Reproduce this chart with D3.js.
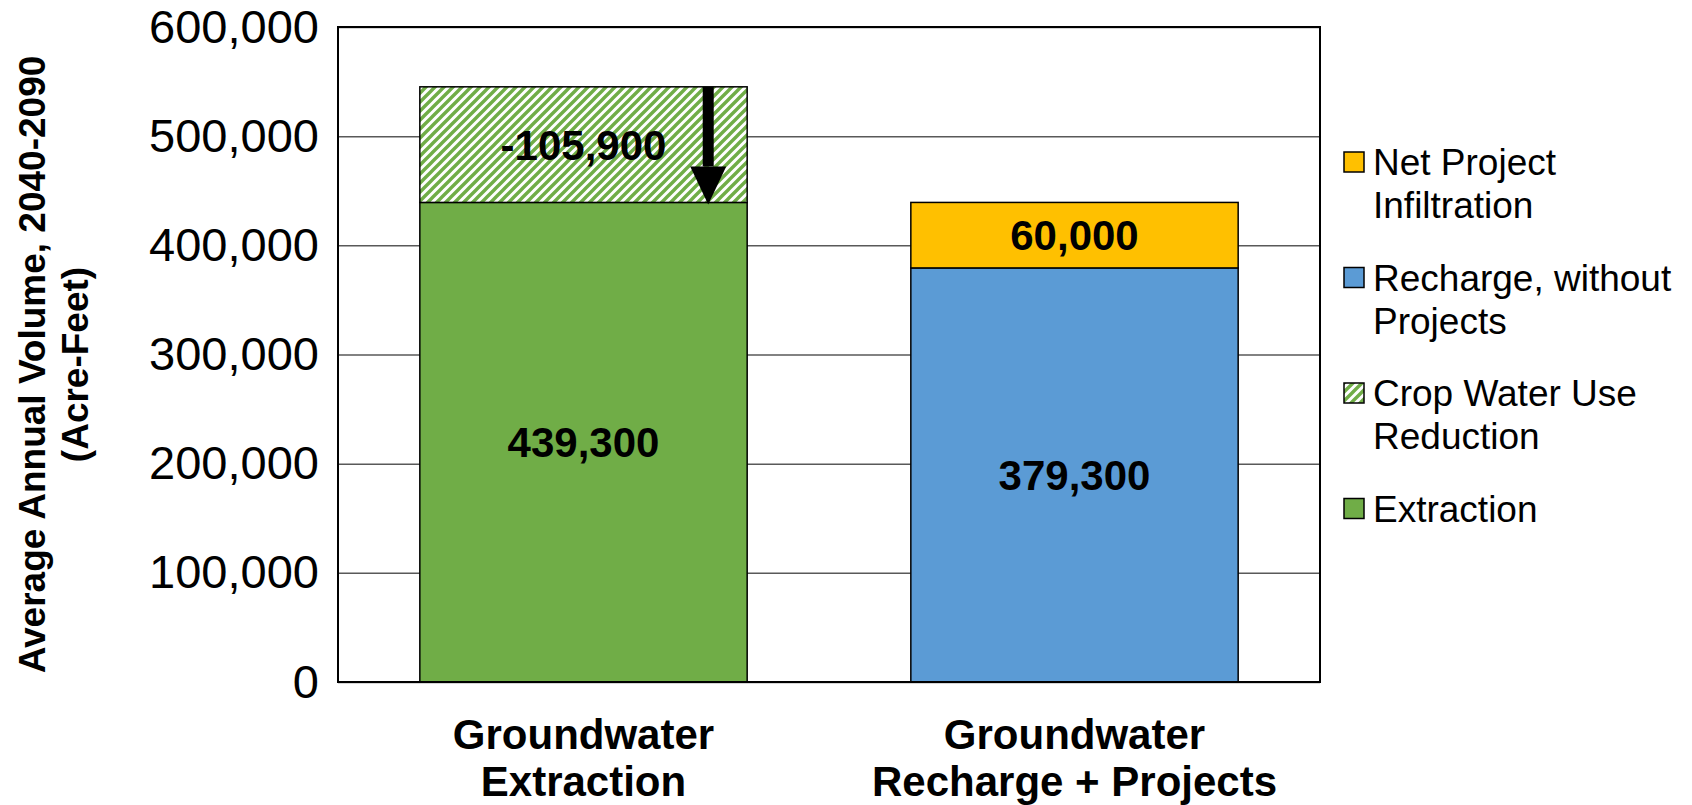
<!DOCTYPE html>
<html>
<head>
<meta charset="utf-8">
<script src="https://cdn.jsdelivr.net/npm/d3@7"></script>
<style>
  body { margin: 0; background: #fff; }
  text { font-family: "Liberation Sans", Arial, sans-serif; fill: #000; }
</style>
</head>
<body>
<div id="chart"></div>
<script>
(function() {

  var categories = ['Groundwater Extraction', 'Groundwater Recharge + Projects'];
  var categoryLines = [['Groundwater', 'Extraction'], ['Groundwater', 'Recharge + Projects']];
  var seriesKeys = ['extraction', 'crop', 'recharge', 'project'];
  var seriesNames = ['Extraction', 'Crop Water Use Reduction', 'Recharge, without Projects', 'Net Project Infiltration'];
  var extraction = [439300, 0];
  var cropReduction = [105900, 0];
  var recharge = [0, 379300];
  var netProject = [0, 60000];
  var yTicks = [0, 100000, 200000, 300000, 400000, 500000, 600000];
  var legendLines = [['Net Project', 'Infiltration'], ['Recharge, without', 'Projects'],
                     ['Crop Water Use', 'Reduction'], ['Extraction']];
  var legendKeys = ['project', 'recharge', 'crop', 'extraction'];

  var W = 1692, H = 805;
  var plot = { left: 338, right: 1320, top: 27, bottom: 682 };
  var colors = { extraction: '#70AD47', crop: 'url(#hatch)', recharge: '#5B9BD5', project: '#FFC000' };

  var rows = categories.map(function(c, i) {
    return { cat: c, extraction: extraction[i], crop: cropReduction[i],
             recharge: recharge[i], project: netProject[i] };
  });

  var svg = d3.select('#chart').append('svg')
    .attr('width', W).attr('height', H);

  var pat = svg.append('defs').append('pattern')
    .attr('id', 'hatch')
    .attr('patternUnits', 'userSpaceOnUse')
    .attr('width', 9).attr('height', 9);
  pat.append('rect').attr('width', 9).attr('height', 9).attr('fill', '#fff');
  pat.append('path')
    .attr('d', 'M0,9 L9,0 M-3,3 L3,-3 M6,12 L12,6')
    .attr('stroke', '#70AD47').attr('stroke-width', 3.4);

  var x = d3.scaleBand().domain(categories)
    .range([plot.left, plot.right]).paddingInner(1 / 3).paddingOuter(1 / 6);
  var y = d3.scaleLinear().domain([0, 600000]).range([plot.bottom, plot.top]);

  // gridlines
  svg.append('g')
    .attr('transform', 'translate(' + plot.left + ',0)')
    .call(d3.axisLeft(y).tickValues(yTicks).tickSize(-(plot.right - plot.left)).tickFormat(''))
    .call(function(g) {
      g.select('.domain').remove();
      g.selectAll('line').attr('stroke', '#595959').attr('stroke-width', 1.5);
    });

  // tick labels
  svg.append('g')
    .attr('transform', 'translate(' + (plot.left - 19) + ',0)')
    .call(d3.axisLeft(y).tickValues(yTicks).tickSize(0).tickPadding(0).tickFormat(d3.format(',')))
    .call(function(g) {
      g.select('.domain').remove();
      g.selectAll('text').style('font-size', '47px').attr('fill', '#000')
        .attr('font-family', '"Liberation Sans", Arial, sans-serif');
    });

  var stack = d3.stack().keys(seriesKeys)(rows);

  svg.append('g').selectAll('g')
    .data(stack)
    .join('g')
    .attr('fill', function(d) { return colors[d.key]; })
    .selectAll('rect')
    .data(function(d) { return d.filter(function(p) { return p[1] > p[0]; }); })
    .join('rect')
    .attr('x', function(d) { return x(d.data.cat); })
    .attr('width', x.bandwidth())
    .attr('y', function(d) { return y(d[1]); })
    .attr('height', function(d) { return y(d[0]) - y(d[1]); })
    .attr('stroke', '#000').attr('stroke-width', 1.5);

  // value labels
  stack.forEach(function(s) {
    s.forEach(function(p) {
      if (p[1] <= p[0]) return;
      var v = p[1] - p[0];
      svg.append('text')
        .attr('x', x(p.data.cat) + x.bandwidth() / 2)
        .attr('y', y((p[0] + p[1]) / 2))
        .attr('dy', '0.36em')
        .attr('text-anchor', 'middle')
        .style('font-size', '42px').style('font-weight', 'bold')
        .text((s.key === 'crop' ? '-' : '') + d3.format(',')(v));
    });
  });

  // arrow showing the reduction
  var ax = x(categories[0]) + x.bandwidth() * 0.881;
  var yTop = y(extraction[0] + cropReduction[0]);
  var yTip = y(extraction[0]);
  svg.append('rect')
    .attr('x', ax - 5.5).attr('y', yTop)
    .attr('width', 11).attr('height', yTip - 36 - yTop)
    .attr('fill', '#000');
  svg.append('path')
    .attr('d', 'M' + (ax - 18) + ',' + (yTip - 36) + ' L' + (ax + 18) + ',' + (yTip - 36) + ' L' + ax + ',' + (yTip + 2) + 'Z')
    .attr('fill', '#000');

  // plot border
  svg.append('rect')
    .attr('x', plot.left).attr('y', plot.top)
    .attr('width', plot.right - plot.left).attr('height', plot.bottom - plot.top)
    .attr('fill', 'none').attr('stroke', '#000').attr('stroke-width', 2);

  // category labels
  categories.forEach(function(c, i) {
    var t = svg.append('text')
      .attr('x', x(c) + x.bandwidth() / 2)
      .attr('y', 749)
      .attr('text-anchor', 'middle')
      .style('font-size', '42px').style('font-weight', 'bold');
    categoryLines[i].forEach(function(line, j) {
      t.append('tspan').attr('x', x(c) + x.bandwidth() / 2).attr('dy', j ? 47 : 0).text(line);
    });
  });

  // y axis title
  var title = svg.append('text')
    .attr('transform', 'translate(32,' + ((plot.top + plot.bottom) / 2 + 10) + ') rotate(-90)')
    .attr('text-anchor', 'middle')
    .style('font-size', '37px').style('font-weight', 'bold');
  title.append('tspan').attr('x', 0).attr('dy', '0.36em').text('Average Annual Volume, 2040-2090');
  title.append('tspan').attr('x', 0).attr('dy', 43).text('(Acre-Feet)');

  // legend
  var legend = svg.append('g').attr('transform', 'translate(1344,152)');
  legendKeys.forEach(function(k, i) {
    var g = legend.append('g').attr('transform', 'translate(0,' + (i * 115.5) + ')');
    g.append('rect').attr('width', 20).attr('height', 20)
      .attr('fill', colors[k]).attr('stroke', '#000').attr('stroke-width', 1.5);
    var t = g.append('text').attr('x', 29).attr('y', 23).style('font-size', '37px');
    legendLines[i].forEach(function(line, j) {
      t.append('tspan').attr('x', 29).attr('dy', j ? 43 : 0).text(line);
    });
  });
})();
</script>
</body>
</html>
